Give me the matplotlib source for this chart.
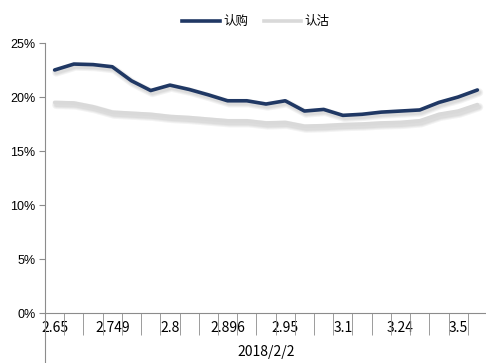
import matplotlib
matplotlib.use("Agg")
import matplotlib.pyplot as plt
import matplotlib.patheffects as pe
from matplotlib.lines import Line2D
import numpy as np

# implied volatility (%) by strike, expiry 2018/2/2
call_iv = [22.5, 23.05, 23.0, 22.8, 21.5, 20.6, 21.1, 20.7, 20.2, 19.65, 19.65, 19.35,
           19.65, 18.7, 18.85, 18.3, 18.4, 18.6, 18.7, 18.8, 19.5, 20.0, 20.65]
put_iv = [19.5, 19.45, 19.1, 18.6, 18.5, 18.4, 18.2, 18.1, 17.95, 17.8, 17.8, 17.6,
          17.65, 17.3, 17.35, 17.45, 17.5, 17.6, 17.65, 17.8, 18.4, 18.7, 19.3]
strike_labels = ["2.65", "2.749", "2.8", "2.896", "2.95", "3.1", "3.24", "3.5"]
expiry = "2018/2/2"
series_names = ["认购", "认沽"]

cjk = ["Noto Sans CJK SC", "DejaVu Sans"]
navy = "#203864"
light = "#d9d9d9"
axis_grey = "#8c8c8c"

fig = plt.figure(figsize=(4.86, 3.63), dpi=100)
ax = fig.add_axes([45 / 486, 50 / 363, 442 / 486, 270 / 363])

n = len(call_iv)
x = np.arange(n)

# soft drop shadow: a few wide faint strokes below the line
shadow = [pe.SimpleLineShadow(offset=(1.2, -1.8), shadow_color="#666666", alpha=0.08,
                              linewidth=w) for w in (6, 4.5, 3)]
shadow.append(pe.Normal())

ax.plot(x, put_iv, color=light, lw=2.6, solid_joinstyle="round", solid_capstyle="round",
        path_effects=shadow, zorder=2)
ax.plot(x, call_iv, color=navy, lw=2.6, solid_joinstyle="round", solid_capstyle="round",
        path_effects=shadow, zorder=3)

ax.set_xlim(-0.5, n - 0.5)
ax.set_ylim(0, 25)

# y axis
ax.set_yticks(np.arange(0, 26, 5))
ax.set_yticklabels([f"{v}%" for v in range(0, 26, 5)], family="Liberation Sans", fontsize=9)
ax.tick_params(axis="y", direction="out", length=4, color=axis_grey, pad=3)

# x axis: boundary ticks between categories, labels on every third strike
ax.set_xticks(np.arange(-0.5, n, 1), minor=True)
ax.set_xticks(np.arange(0, n, 3))
ax.set_xticklabels(strike_labels, family=cjk, fontsize=10)
ax.tick_params(axis="x", which="major", length=0, pad=6)
ax.tick_params(axis="x", which="minor", direction="out", length=16, color=axis_grey)

for s in ["top", "right"]:
    ax.spines[s].set_visible(False)
for s in ["left", "bottom"]:
    ax.spines[s].set_color(axis_grey)
    ax.spines[s].set_linewidth(0.8)

# left spine runs down past the outer label row
ax.add_line(Line2D([0, 0], [0, -0.2], transform=ax.transAxes, color=axis_grey,
                   lw=0.8, clip_on=False))
ax.text(0.5, -0.145, expiry, transform=ax.transAxes, ha="center", va="center",
        family=cjk, fontsize=10)

handles = [Line2D([], [], color=navy, lw=2.6), Line2D([], [], color=light, lw=2.6)]
fig.legend(handles, series_names, loc="center", bbox_to_anchor=(0.527, 0.94),
           ncol=2, frameon=False, prop={"family": cjk, "size": 9},
           handlelength=3, columnspacing=1.2, handletextpad=0.3)

fig.savefig("out.png", dpi=100)
